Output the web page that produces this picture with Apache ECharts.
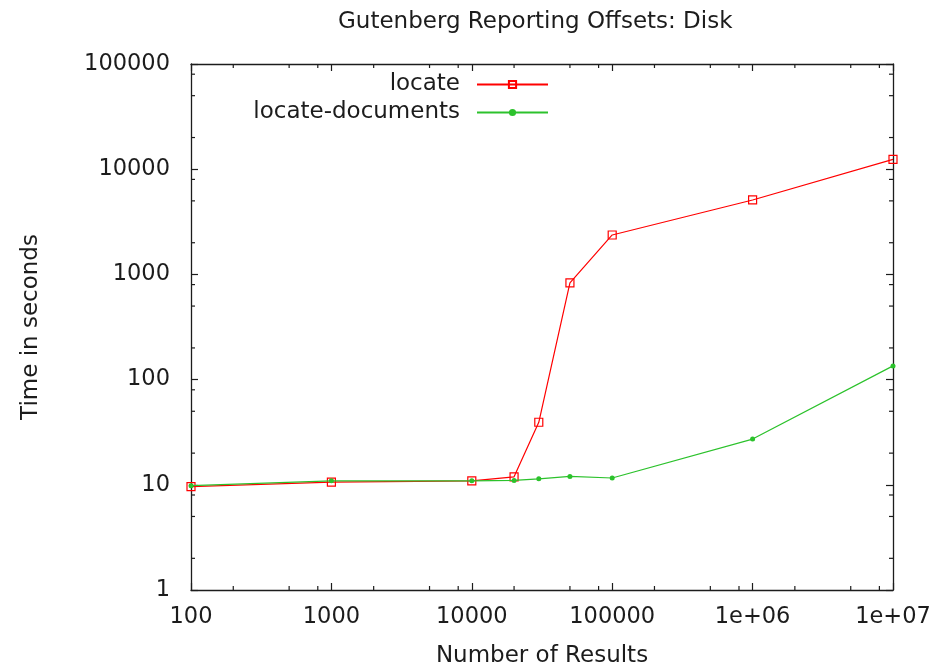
<!DOCTYPE html>
<html>
<head>
<meta charset="utf-8">
<title>Gutenberg Reporting Offsets: Disk</title>
<script src="https://cdn.jsdelivr.net/npm/echarts@6/dist/echarts.min.js"></script>
<style>
  html, body { margin: 0; padding: 0; background: #fff; }
  #chart { width: 950px; height: 667px; }
</style>
</head>
<body>
<div id="chart"></div>
<script>
// Number of results requested, and the time each tool took (seconds)
const resultCounts = [100, 1000, 10000, 20000, 30000, 50000, 100000, 1000000, 10000000];
const locateTimes = [9.6, 10.6, 10.9, 11.9, 39.3, 829, 2370, 5100, 12400];
const locateDocumentsTimes = [9.8, 10.9, 10.9, 11.0, 11.4, 12.0, 11.6, 27.2, 135];

// Axis ticks
const xTickValues = [100, 1000, 10000, 100000, 1000000, 10000000];
const xTickLabels = ['100', '1000', '10000', '100000', '1e+06', '1e+07'];
const yTickValues = [1, 10, 100, 1000, 10000, 100000];
const yTickLabels = ['1', '10', '100', '1000', '10000', '100000'];
const xMinorTicks = [200, 500, 800, 2000, 5000, 8000, 20000, 50000, 80000,
  200000, 500000, 800000, 2000000, 5000000, 8000000];
const yMinorTicks = [2, 5, 8, 20, 50, 80, 200, 500, 800, 2000, 5000, 8000,
  20000, 50000, 80000];

const X_MIN = xTickValues[0], X_MAX = xTickValues[xTickValues.length - 1];
const Y_MIN = yTickValues[0], Y_MAX = yTickValues[yTickValues.length - 1];

const FONT = 'DejaVu Sans';
const INK = '#1c1c1c';
const RED = '#ff0000';
const GREEN = '#2cc22c';
const MAJOR_LEN = 7;
const MINOR_LEN = 4;

function labelFor(values, labels) {
  return function (v) {
    const i = values.findIndex(t => Math.abs(Math.log10(t) - Math.log10(v)) < 1e-6);
    return i >= 0 ? labels[i] : '';
  };
}

function baseAxis(extra) {
  return Object.assign({
    type: 'log',
    logBase: 10,
    axisLine: { show: true, onZero: false, lineStyle: { color: INK, width: 1.3 } },
    axisTick: { show: true, inside: true, length: MAJOR_LEN, lineStyle: { color: INK, width: 1.2 } },
    splitLine: { show: false },
    minorTick: { show: false }
  }, extra);
}

const chart = echarts.init(document.getElementById('chart'), null, { renderer: 'canvas' });

const option = {
  animation: false,
  backgroundColor: '#fff',
  title: {
    text: 'Gutenberg Reporting Offsets: Disk',
    left: 338,
    top: 11,
    padding: 0,
    textStyle: { fontFamily: FONT, fontSize: 23, fontWeight: 'normal', color: INK }
  },
  legend: {
    data: ['locate', 'locate-documents'],
    orient: 'vertical',
    align: 'right',
    right: 401,
    top: 73,
    padding: 0,
    itemGap: 5,
    itemWidth: 71,
    itemHeight: 9,
    textStyle: { fontFamily: FONT, fontSize: 23, color: INK, padding: [0, 12, 0, 0] }
  },
  grid: { left: 191, right: 57, top: 64, bottom: 77, containLabel: false, outerBoundsMode: 'none' },
  xAxis: [
    baseAxis({
      position: 'bottom',
      min: X_MIN,
      max: X_MAX,
      name: 'Number of Results',
      nameLocation: 'middle',
      nameGap: 55,
      nameTextStyle: { fontFamily: FONT, fontSize: 23, color: INK },
      axisLabel: {
        margin: 16,
        fontFamily: FONT,
        fontSize: 22.5,
        color: INK,
        showMinLabel: true,
        showMaxLabel: true,
        formatter: labelFor(xTickValues, xTickLabels)
      }
    }),
    baseAxis({ position: 'top', min: X_MIN, max: X_MAX, axisLabel: { show: false } })
  ],
  yAxis: [
    baseAxis({
      position: 'left',
      min: Y_MIN,
      max: Y_MAX,
      name: 'Time in seconds',
      nameLocation: 'middle',
      nameGap: 148,
      nameTextStyle: { fontFamily: FONT, fontSize: 23, color: INK },
      axisLabel: {
        margin: 21,
        fontFamily: FONT,
        fontSize: 22.5,
        color: INK,
        showMinLabel: true,
        showMaxLabel: true,
        formatter: labelFor(yTickValues, yTickLabels)
      }
    }),
    baseAxis({ position: 'right', min: Y_MIN, max: Y_MAX, axisLabel: { show: false } })
  ],
  series: [
    {
      name: 'locate',
      type: 'line',
      xAxisIndex: 0,
      yAxisIndex: 0,
      data: resultCounts.map((x, i) => [x, locateTimes[i]]),
      symbol: 'rect',
      symbolSize: 8,
      lineStyle: { color: RED, width: 1.2 },
      itemStyle: { color: 'rgba(255,255,255,0)', borderColor: RED, borderWidth: 1.2 },
      z: 3
    },
    {
      name: 'locate-documents',
      type: 'line',
      xAxisIndex: 0,
      yAxisIndex: 0,
      data: resultCounts.map((x, i) => [x, locateDocumentsTimes[i]]),
      symbol: 'circle',
      symbolSize: 5,
      lineStyle: { color: GREEN, width: 1.2 },
      itemStyle: { color: GREEN },
      z: 4
    },
    {
      // minor ticks along the bottom and top borders
      type: 'custom',
      silent: true,
      xAxisIndex: 0,
      yAxisIndex: 0,
      z: 5,
      data: xMinorTicks.map(v => [v, Y_MIN]),
      renderItem: function (params, api) {
        const v = api.value(0);
        const b = api.coord([v, Y_MIN]);
        const t = api.coord([v, Y_MAX]);
        const style = { stroke: INK, lineWidth: 1.2 };
        return {
          type: 'group',
          children: [
            { type: 'line', shape: { x1: b[0], y1: b[1], x2: b[0], y2: b[1] - MINOR_LEN }, style: style },
            { type: 'line', shape: { x1: t[0], y1: t[1], x2: t[0], y2: t[1] + MINOR_LEN }, style: style }
          ]
        };
      }
    },
    {
      // minor ticks along the left and right borders
      type: 'custom',
      silent: true,
      xAxisIndex: 0,
      yAxisIndex: 0,
      z: 5,
      data: yMinorTicks.map(v => [X_MIN, v]),
      renderItem: function (params, api) {
        const v = api.value(1);
        const l = api.coord([X_MIN, v]);
        const r = api.coord([X_MAX, v]);
        const style = { stroke: INK, lineWidth: 1.2 };
        return {
          type: 'group',
          children: [
            { type: 'line', shape: { x1: l[0], y1: l[1], x2: l[0] + MINOR_LEN, y2: l[1] }, style: style },
            { type: 'line', shape: { x1: r[0], y1: r[1], x2: r[0] - MINOR_LEN, y2: r[1] }, style: style }
          ]
        };
      }
    }
  ]
};

chart.setOption(option);
</script>
</body>
</html>
